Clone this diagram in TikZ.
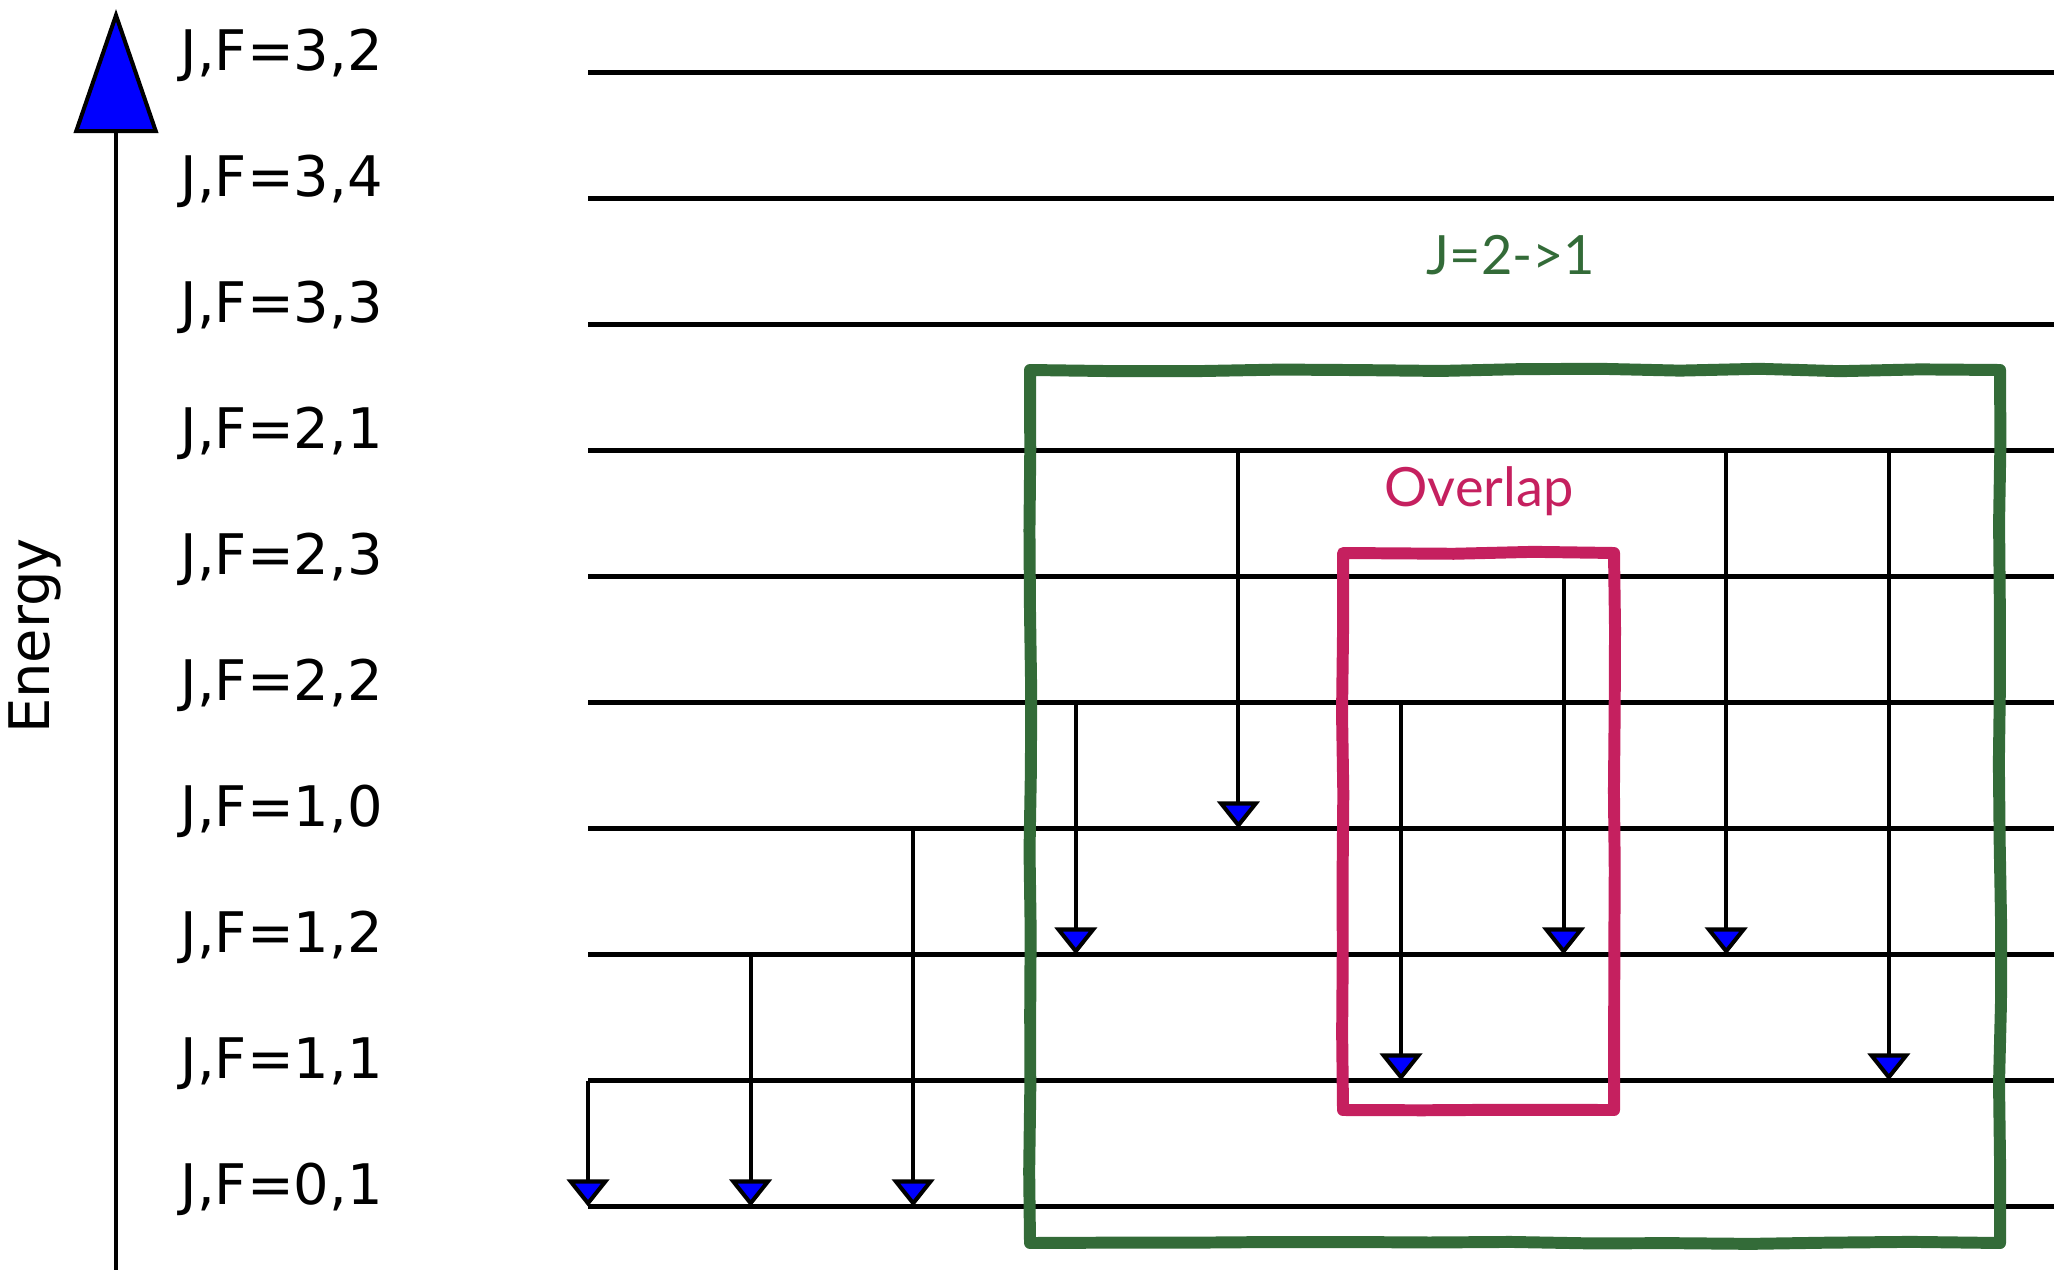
\documentclass[tikz,border=0pt]{standalone}
\usepackage{fontspec}
\setmainfont{DejaVu Sans}
\newfontfamily\boxfont{Lato}
\usetikzlibrary{arrows.meta,decorations.pathmorphing}
\definecolor{jgreen}{RGB}{51,107,56}
\definecolor{overlapred}{RGB}{197,32,95}
\pgfmathsetseed{7}

\begin{document}
\begin{tikzpicture}[x=0.01cm,y=-0.01cm,
  level/.style={line width=1.15pt},
  decay/.style={line width=1.15pt,-{Triangle[width=4.2mm,length=2.7mm,fill=blue]}},
  axis/.style={line width=1.15pt,-{Triangle[width=8.4mm,length=12.4mm,fill=blue]}},
  lbl/.style={anchor=base west,inner sep=0pt,font=\fontsize{15.9}{18}\selectfont},
  handbox/.style={line width=3.4pt,line join=round,decorate,
    decoration={random steps,segment length=8mm,amplitude=0.12mm}},
  boxlbl/.style={inner sep=0pt,font=\boxfont\fontsize{15.4}{18}\selectfont}]
  \useasboundingbox (0,0) rectangle (2064,1270);

  % energy axis
  \coordinate (ebot) at (116,1270);
  \coordinate (etop) at (116,9);
  \draw[axis] (ebot) -- (etop);
  \node[rotate=90,font=\fontsize{15.9}{18}\selectfont] (energy) at (35,636) {Energy};

  % levels
  \draw[level] (588,72.5) coordinate (F32) -- +(1466,0);
  \draw[level] (588,198.5) coordinate (F34) -- +(1466,0);
  \draw[level] (588,324.5) coordinate (F33) -- +(1466,0);
  \draw[level] (588,450.5) coordinate (F21) -- +(1466,0);
  \draw[level] (588,576.5) coordinate (F23) -- +(1466,0);
  \draw[level] (588,702.5) coordinate (F22) -- +(1466,0);
  \draw[level] (588,828.5) coordinate (F10) -- +(1466,0);
  \draw[level] (588,954.5) coordinate (F12) -- +(1466,0);
  \draw[level] (588,1080.5) coordinate (F11) -- +(1466,0);
  \draw[level] (588,1206.5) coordinate (F01) -- +(1466,0);

  \node[lbl] (t32) at (180,70.5) {J,F=3,2};
  \node[lbl] (t34) at (180,196.5) {J,F=3,4};
  \node[lbl] (t33) at (180,322.5) {J,F=3,3};
  \node[lbl] (t21) at (180,448.5) {J,F=2,1};
  \node[lbl] (t23) at (180,574.5) {J,F=2,3};
  \node[lbl] (t22) at (180,700.5) {J,F=2,2};
  \node[lbl] (t10) at (180,826.5) {J,F=1,0};
  \node[lbl] (t12) at (180,952.5) {J,F=1,2};
  \node[lbl] (t11) at (180,1078.5) {J,F=1,1};
  \node[lbl] (t01) at (180,1204.5) {J,F=0,1};

  % transitions
  \foreach \k in {1,...,9}
    \coordinate (c\k) at ({588+162.6*(\k-1)},0);
  \draw[decay] (c1 |- F11) -- (c1 |- F01);
  \draw[decay] (c2 |- F12) -- (c2 |- F01);
  \draw[decay] (c3 |- F10) -- (c3 |- F01);
  \draw[decay] (c4 |- F22) -- (c4 |- F12);
  \draw[decay] (c5 |- F21) -- (c5 |- F10);
  \draw[decay] (c6 |- F22) -- (c6 |- F11);
  \draw[decay] (c7 |- F23) -- (c7 |- F12);
  \draw[decay] (c8 |- F21) -- (c8 |- F12);
  \draw[decay] (c9 |- F21) -- (c9 |- F11);

  % hand drawn boxes
  \draw[handbox,jgreen] (1030,370) rectangle (2000,1243);
  \node[boxlbl,text=jgreen] (jlbl) at (1511,255) {J=2->1};
  \draw[handbox,overlapred] (1343,553) rectangle (1614,1110);
  \node[boxlbl,text=overlapred] (olbl) at (1479,491) {Overlap};
\end{tikzpicture}
\end{document}
